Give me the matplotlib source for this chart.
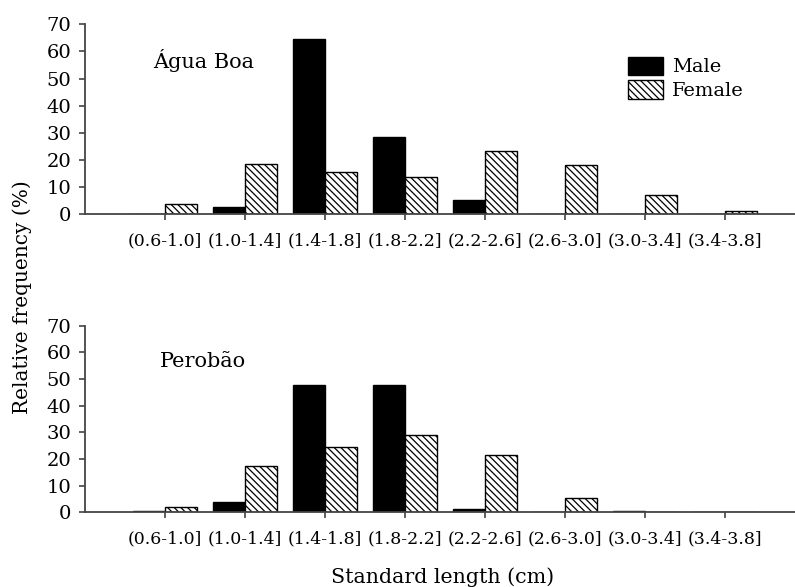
import numpy as np
import matplotlib
matplotlib.use('Agg')
import matplotlib.pyplot as plt
from matplotlib.patches import Patch

plt.rcParams['font.family'] = ['DejaVu Serif']
plt.rcParams['hatch.linewidth'] = 0.9

# Standard length classes (cm)
classes = ['(0.6-1.0]', '(1.0-1.4]', '(1.4-1.8]', '(1.8-2.2]',
           '(2.2-2.6]', '(2.6-3.0]', '(3.0-3.4]', '(3.4-3.8]']

# Relative frequency (%) per site
agua_boa_male = [0, 2.7, 64.5, 28.3, 5.0, 0, 0, 0]
agua_boa_female = [3.6, 18.6, 15.6, 13.7, 23.4, 18.1, 7.0, 1.2]
perobao_male = [0.6, 4.0, 47.7, 47.7, 1.1, 0, 0.6, 0]
perobao_female = [2.1, 17.4, 24.6, 29.0, 21.6, 5.5, 0, 0]

sites = ['Água Boa', 'Perobão']
spine_col = '#444444'
hatch = '\\\\\\\\\\'


def draw_panel(ax, male, female, site, label_x):
    x = np.arange(len(classes))
    w = 0.4
    ax.bar(x - w / 2, male, width=w, color='black', edgecolor='black', linewidth=1)
    ax.bar(x + w / 2, female, width=w, color='white', edgecolor='black',
           linewidth=1, hatch=hatch)
    ax.set_xlim(-1, 7.875)
    ax.set_ylim(0, 70)
    ax.set_yticks(range(0, 71, 10))
    ax.set_xticks(x)
    ax.set_xticklabels(classes, fontsize=12.5)
    ax.tick_params(axis='y', labelsize=14, length=4, width=1.2,
                   color=spine_col, pad=6)
    ax.tick_params(axis='x', length=4, width=1.2, color=spine_col, pad=9)
    for s in ['top', 'right']:
        ax.spines[s].set_visible(False)
    for s in ['left', 'bottom']:
        ax.spines[s].set_color(spine_col)
        ax.spines[s].set_linewidth(1.3)
    ax.text(label_x, 56.5, site, fontsize=15, va='center', ha='left')


fig = plt.figure(figsize=(7.95, 5.87), dpi=100)
ax1 = fig.add_axes([0.107, 0.6354, 0.8931, 0.3232])
ax2 = fig.add_axes([0.107, 0.1273, 0.8931, 0.3178])

draw_panel(ax1, agua_boa_male, agua_boa_female, sites[0], -0.15)
draw_panel(ax2, perobao_male, perobao_female, sites[1], -0.06)

handles = [Patch(facecolor='black', edgecolor='black', label='Male'),
           Patch(facecolor='white', edgecolor='black', hatch=hatch,
                 label='Female')]
ax1.legend(handles=handles, loc='upper left', bbox_to_anchor=(0.765, 0.83),
           frameon=False, fontsize=14, handlelength=1.8, handleheight=1.1,
           labelspacing=0.2, handletextpad=0.45, borderpad=0, borderaxespad=0)

fig.text(0.028, 1 - 297 / 587, 'Relative frequency (%)', rotation=90,
         fontsize=14.5, ha='center', va='center')
fig.text(443 / 795, 0.017, 'Standard length (cm)', fontsize=14.8,
         ha='center', va='center')

fig.savefig('out.png', dpi=100)
